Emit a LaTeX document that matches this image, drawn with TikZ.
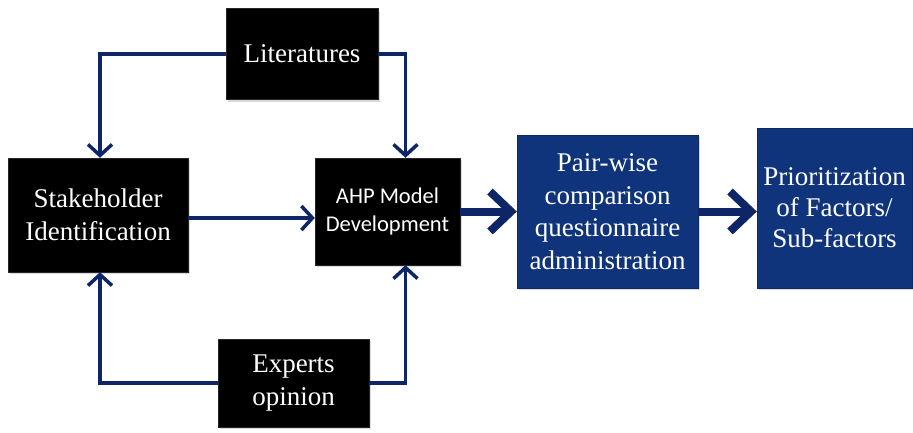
\documentclass[tikz,border=0pt]{standalone}
\usepackage{fontspec}
\setmainfont{Liberation Serif}
\newfontfamily\calfont{Carlito}
\usetikzlibrary{arrows.meta,shadows,calc}
\definecolor{navyline}{RGB}{14,38,104}
\definecolor{boxblue}{RGB}{16,52,124}
\begin{document}
\begin{tikzpicture}[x=1pt,y=-1pt,
  blackbox/.style={draw=black!85, fill=black, text=white, align=center, inner sep=0pt,
    font=\fontsize{27}{33}\selectfont,
    drop shadow={shadow xshift=2pt, shadow yshift=-2pt, opacity=0.3}},
  bluebox/.style={draw=boxblue!80!black, fill=boxblue, text=white, align=center, inner sep=0pt,
    font=\fontsize{27}{32.5}\selectfont,
    drop shadow={shadow xshift=2pt, shadow yshift=-2pt, opacity=0.3}},
  thinarrow/.style={draw=navyline, line width=3.5pt, -{Straight Barb[length=11pt,width=24pt,line width=3.5pt]}},
  thickarrow/.style={draw=navyline, line width=8pt, -{Straight Barb[length=21pt,width=40pt,line width=8pt]}}]
\useasboundingbox (0,0) rectangle (913,432);
\node[blackbox, minimum width=152pt, minimum height=91pt] (lit) at (302,54) {Literatures};
\node[blackbox, minimum width=180pt, minimum height=114pt] (stake) at (98,215) {Stakeholder\\Identification};
\node[blackbox, minimum width=145pt, minimum height=107pt, font=\calfont\fontsize{22.5}{28}\selectfont] (ahp) at (387.5,211.5) {AHP Model\\Development};
\node[blackbox, minimum width=151pt, minimum height=88pt] (exp) at (293.5,383) {Experts\\opinion};
\node[bluebox, minimum width=181pt, minimum height=153pt] (pair) at (607.5,211.5) {Pair-wise\\comparison\\questionnaire\\administration};
\node[bluebox, minimum width=155pt, minimum height=160pt, font=\fontsize{27}{31}\selectfont] (prio) at (834.5,208) {Prioritization\\of Factors/\\Sub-factors};
\draw[thinarrow] (lit.west) -| ([xshift=2pt]stake.north);
\draw[thinarrow] (lit.east) -| ([xshift=18pt]ahp.north);
\draw[thinarrow] (exp.west) -| ([xshift=2pt]stake.south);
\draw[thinarrow] (exp.east) -| ([xshift=18pt]ahp.south);
\draw[thinarrow] ([yshift=-3pt]stake.east) -- ([yshift=-3pt]stake.east -| ahp.west);
\draw[thickarrow] (ahp.east) -- (ahp.east -| pair.west);
\draw[thickarrow] (pair.east) -- (pair.east -| prio.west);
\end{tikzpicture}
\end{document}
